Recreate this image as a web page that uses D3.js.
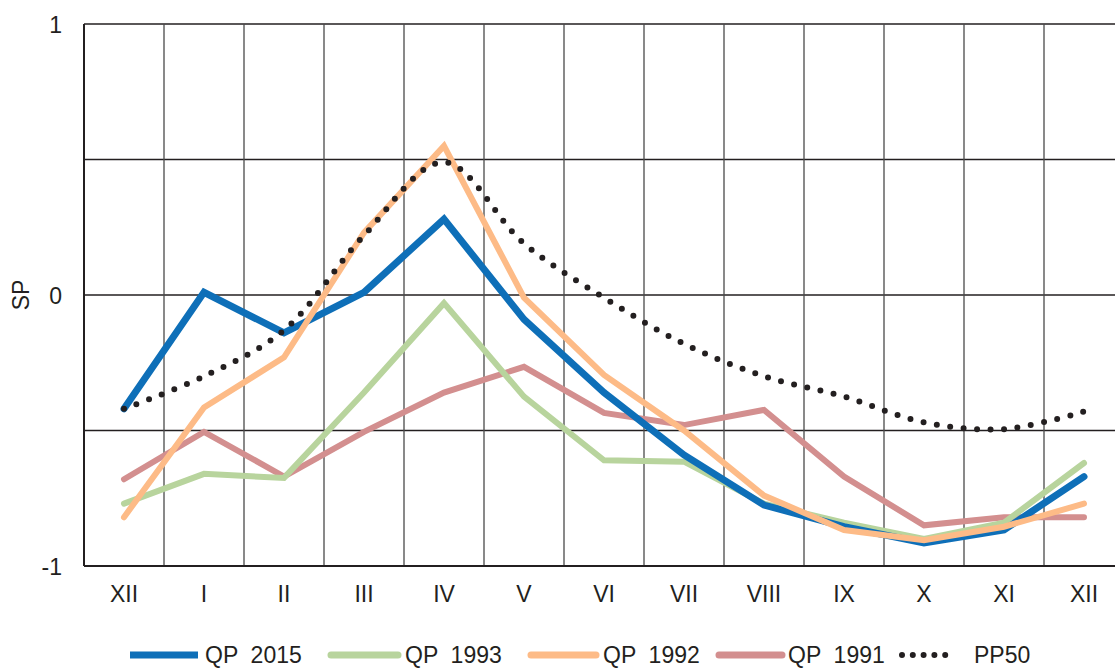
<!DOCTYPE html>
<html><head><meta charset="utf-8">
<script src="https://cdn.jsdelivr.net/npm/d3@7"></script>
<style>body{margin:0;background:#fff}svg{display:block}text{font-family:"Liberation Sans",Arial,sans-serif;fill:#231f20}</style>
</head><body>
<script>
const months = ["XII","I","II","III","IV","V","VI","VII","VIII","IX","X","XI","XII"];
const yTicks = [-1, -0.5, 0, 0.5, 1];
const yTickLabels = {"-1":"-1","0":"0","1":"1"};
const qp2015 = [-0.42, 0.01, -0.14, 0.01, 0.28, -0.09, -0.36, -0.59, -0.775, -0.855, -0.915, -0.867, -0.67];
const qp1993 = [-0.77, -0.66, -0.675, -0.36, -0.03, -0.375, -0.61, -0.615, -0.77, -0.84, -0.9, -0.84, -0.62];
const qp1992 = [-0.82, -0.415, -0.23, 0.23, 0.55, -0.01, -0.295, -0.5, -0.74, -0.867, -0.905, -0.855, -0.77];
const qp1991 = [-0.68, -0.505, -0.67, -0.505, -0.36, -0.265, -0.435, -0.48, -0.424, -0.67, -0.85, -0.82, -0.82];
const pp50 = [-0.42, -0.30, -0.13, 0.22, 0.49, 0.19, -0.01, -0.18, -0.30, -0.375, -0.47, -0.495, -0.43];

const W = 1115, H = 668;
const m = {left: 84, top: 24, right: 1124, bottom: 566};
const FS = 23;
const svg = d3.select("body").append("svg").attr("width", W).attr("height", H);
const idx = d3.range(months.length);
const x = d3.scaleBand().domain(idx).range([m.left, m.right]).padding(0);
const cx = i => x(i) + x.bandwidth() / 2;
const y = d3.scaleLinear().domain([-1, 1]).range([m.bottom, m.top]);

// horizontal gridlines
svg.append("g").selectAll("line").data(yTicks).join("line")
  .attr("x1", m.left).attr("x2", W).attr("y1", d => y(d)).attr("y2", d => y(d))
  .attr("stroke", "#231f20").attr("stroke-width", 1.3);
// vertical gridlines
svg.append("g").selectAll("line").data(idx.slice(1)).join("line")
  .attr("x1", d => x(d)).attr("x2", d => x(d)).attr("y1", m.top).attr("y2", m.bottom)
  .attr("stroke", "#4a4a4a").attr("stroke-width", 1.3);
// axes lines
svg.append("line").attr("x1", m.left).attr("x2", m.left).attr("y1", m.top).attr("y2", m.bottom)
  .attr("stroke", "#231f20").attr("stroke-width", 2);
svg.append("line").attr("x1", m.left).attr("x2", W).attr("y1", m.bottom).attr("y2", m.bottom)
  .attr("stroke", "#231f20").attr("stroke-width", 2);

// y tick labels
svg.append("g").selectAll("text").data(yTicks.filter(d => yTickLabels[String(d)] !== undefined)).join("text")
  .attr("x", 62).attr("y", d => y(d) + 8.5).attr("text-anchor", "end")
  .attr("font-size", FS).text(d => yTickLabels[String(d)]);
// x tick labels
svg.append("g").selectAll("text").data(idx).join("text")
  .attr("x", d => cx(d)).attr("y", 602).attr("text-anchor", "middle")
  .attr("font-size", FS).text(d => months[d]);
// y axis title
svg.append("text").attr("transform", `translate(29,${y(0)}) rotate(-90)`)
  .attr("text-anchor", "middle").attr("font-size", FS).text("SP");

const series = [
  {name: "QP  2015", data: qp2015, color: "#0e6fb8", w: 7},
  {name: "QP  1993", data: qp1993, color: "#b8d49d", w: 6},
  {name: "QP  1992", data: qp1992, color: "#fdbb87", w: 6},
  {name: "QP  1991", data: qp1991, color: "#d38f8f", w: 6}
];
const line = d3.line().x((d, i) => cx(i)).y(d => y(d));
const plot = svg.append("g");
[series[3], series[1], series[0], series[2]].forEach(s => {
  plot.append("path").datum(s.data).attr("d", line).attr("fill", "none")
    .attr("stroke", s.color).attr("stroke-width", s.w).attr("stroke-linejoin", "miter")
    .attr("stroke-linecap", "round");
});
const smooth = d3.line().x((d, i) => cx(i)).y(d => y(d)).curve(d3.curveCatmullRom.alpha(0.5));
plot.append("path").datum(pp50).attr("d", smooth).attr("fill", "none")
  .attr("stroke", "#231f20").attr("stroke-width", 6).attr("stroke-linecap", "round")
  .attr("stroke-dasharray", "0 13.5");

// legend
const LY = 655, LT = 663;
const leg = svg.append("g");
const legItems = [
  {name: "QP  2015", color: "#0e6fb8", x1: 130, x2: 198, tx: 205, w: 7, cap: "butt"},
  {name: "QP  1993", color: "#b8d49d", x1: 331, x2: 398, tx: 405, w: 7, cap: "round"},
  {name: "QP  1992", color: "#fdbb87", x1: 531, x2: 596, tx: 603, w: 7, cap: "round"},
  {name: "QP  1991", color: "#d38f8f", x1: 719, x2: 782, tx: 788, w: 7, cap: "round"},
];
legItems.forEach(l => {
  leg.append("line").attr("x1", l.x1).attr("x2", l.x2).attr("y1", LY).attr("y2", LY)
    .attr("stroke", l.color).attr("stroke-width", l.w).attr("stroke-linecap", l.cap);
  leg.append("text").attr("x", l.tx).attr("y", LT).attr("font-size", FS)
    .style("white-space", "pre").text(l.name);
});
leg.append("line").attr("x1", 902).attr("x2", 956).attr("y1", LY).attr("y2", LY)
  .attr("stroke", "#231f20").attr("stroke-width", 6).attr("stroke-linecap", "round")
  .attr("stroke-dasharray", "0 10.8");
leg.append("text").attr("x", 974).attr("y", LT).attr("font-size", FS).text("PP50");
</script>
</body></html>
